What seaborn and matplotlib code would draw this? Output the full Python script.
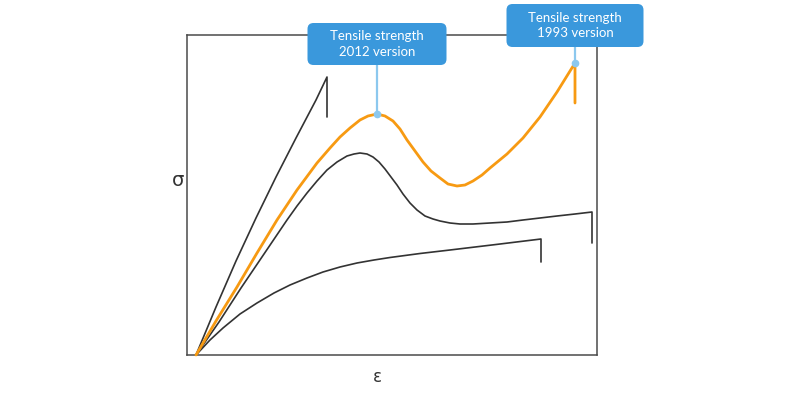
import matplotlib
matplotlib.use("Agg")
import matplotlib.pyplot as plt
from matplotlib.patches import FancyBboxPatch
from matplotlib.transforms import IdentityTransform
import seaborn as sns
import pandas as pd
import numpy as np

# ---- data (strain, stress in arbitrary units) ----
brittle_strain = [0, 20, 40, 60, 80, 100, 120, 131, 131]
brittle_stress = [0, 48, 94, 137, 178, 217, 255, 278, 238]

v2012_strain = [0, 20, 41, 61, 81, 101, 121, 134, 144, 154, 164, 172, 181, 189,
                197, 204, 211, 219, 227, 235, 244, 252, 261, 269, 277, 286, 294,
                311, 327, 344, 361, 379, 379]
v2012_stress = [0, 34, 68, 102, 135, 165, 192, 207, 218, 227, 235, 239, 241, 239,
                234, 226, 215, 204, 193, 184, 177, 171, 169, 170, 174, 180, 187,
                201, 217, 238, 263, 292, 252]

ductile_strain = [0, 23, 45, 68, 91, 101, 111, 121, 131, 141, 151, 158, 164, 171,
                  177, 183, 189, 195, 201, 207, 214, 221, 229, 237, 244, 254, 264,
                  277, 294, 311, 327, 344, 361, 379, 396, 396]
ductile_stress = [0, 33, 67, 101, 135, 149, 162, 174, 185, 193, 199, 201, 202, 201,
                  198, 193, 186, 178, 170, 161, 152, 145, 139, 136, 134, 132, 131,
                  131, 132, 133, 135, 137, 139, 141, 143, 112]

soft_strain = [0, 14, 27, 44, 61, 78, 94, 111, 127, 144, 161, 178, 194, 224, 254,
               300, 345, 345]
soft_stress = [0, 15, 27, 41, 52, 62, 70, 77, 83, 88, 92, 95, 97.5, 101.5, 105,
               110.5, 116, 93]

labels = ["Tensile strength\n2012 version", "Tensile strength\n1993 version"]
x_label = "ε"
y_label = "σ"

frames = []
for name, xs, ys in [("brittle", brittle_strain, brittle_stress),
                     ("v2012", v2012_strain, v2012_stress),
                     ("ductile", ductile_strain, ductile_stress),
                     ("soft", soft_strain, soft_stress)]:
    frames.append(pd.DataFrame({"curve": name, "strain": xs, "stress": ys}))
df = pd.concat(frames, ignore_index=True)

sns.set_theme(style="white")
plt.rcParams["font.family"] = ["Lato", "DejaVu Sans"]

W, H = 800, 396
fig = plt.figure(figsize=(W / 100, H / 100), dpi=100)
ax = fig.add_axes([187 / W, (H - 355) / H, 410 / W, 320 / H])

dark = "#333333"
orange = "#F79A12"
palette = {"brittle": dark, "v2012": orange, "ductile": dark, "soft": dark}
widths = {"brittle": 1.2, "v2012": 2.0, "ductile": 1.2, "soft": 1.2}
for name in ["brittle", "ductile", "soft", "v2012"]:
    sub = df[df.curve == name]
    sns.lineplot(data=sub, x="strain", y="stress", sort=False, ax=ax,
                 color=palette[name], lw=widths[name], estimator=None,
                 zorder=3 if name == "v2012" else 2, clip_on=False)

ax.set_xlim(-9, 401)
ax.set_ylim(0, 320)
ax.set_xticks([])
ax.set_yticks([])
ax.set_xlabel("")
ax.set_ylabel("")
for s in ax.spines.values():
    s.set_visible(True)
    s.set_color("#4a4a4a")
    s.set_linewidth(1.1)

fig.text(178 / W, 1 - 180 / H, y_label, ha="center", va="center",
         fontsize=14, color=dark, family=["DejaVu Sans"])
fig.text(377 / W, 1 - 377 / H, x_label, ha="center", va="center",
         fontsize=12, color=dark, family=["DejaVu Sans"])

# ---- callouts ----
peak_i = int(np.argmax(v2012_stress[:20]))
anchors = [(v2012_strain[peak_i], v2012_stress[peak_i]),
           (v2012_strain[-2], v2012_stress[-2])]
gaps = [49, 16]
sizes = [(139, 42), (137, 43)]
box_col = "#3A98DC"
lead_col = "#8CC8EE"
fig.canvas.draw()
for (ax_x, ax_y), gap, (bw, bh), txt in zip(anchors, gaps, sizes, labels):
    px, py = ax.transData.transform((ax_x, ax_y))
    bottom = py + gap
    ax.plot([ax_x, ax_x], [ax_y, ax.transData.inverted().transform((px, bottom))[1]],
            color=lead_col, lw=1.6, zorder=4, clip_on=False)
    ax.plot([ax_x], [ax_y], marker="o", ms=4.5, color=lead_col, zorder=5,
            clip_on=False)
    patch = FancyBboxPatch((px - bw / 2 + 5, bottom + 5), bw - 10, bh - 10,
                           boxstyle="round,pad=5,rounding_size=6",
                           transform=IdentityTransform(), facecolor=box_col,
                           edgecolor="none", zorder=6)
    fig.patches.append(patch)
    fig.text(px / W, (bottom + bh / 2) / H, txt, ha="center", va="center",
             color="white", fontsize=9.5, linespacing=1.3, zorder=7)

fig.savefig("out.png", dpi=100)
